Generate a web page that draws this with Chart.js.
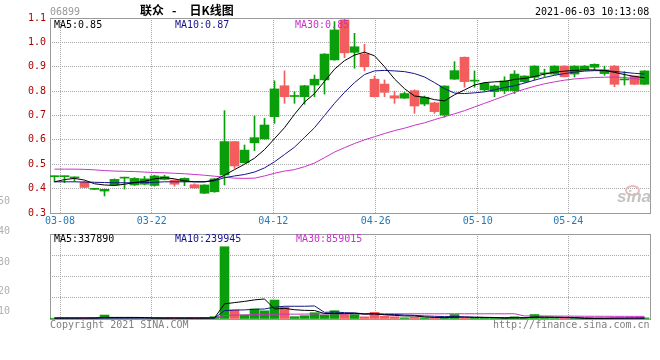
<!DOCTYPE html>
<html><head><meta charset="utf-8">
<script src="https://cdn.jsdelivr.net/npm/chart.js@4.4.1/dist/chart.umd.min.js"></script>
<style>
html,body{margin:0;padding:0;background:#fff;}
#wrap{position:relative;width:660px;height:360px;overflow:hidden;background:#fff;}
canvas{position:absolute;left:0;}
.t{position:absolute;font-family:"DejaVu Sans Mono",monospace;font-size:10px;line-height:10px;white-space:pre;z-index:5;}
.title{position:absolute;font-family:"Noto Sans CJK SC",sans-serif;font-weight:bold;font-size:12px;line-height:12px;white-space:pre;z-index:5;color:#000;}
.sp{display:inline-block;}
.logo{position:absolute;left:617px;top:189px;font-family:"Liberation Sans",Arial,sans-serif;font-style:italic;font-weight:bold;font-size:17px;line-height:16px;color:#c4c4c4;z-index:5;}
.eye{position:absolute;left:625px;top:185px;width:11px;height:7px;border:2px solid #e8bcbc;border-radius:50%;z-index:4;}
</style></head><body>
<div id="wrap">
<canvas id="price" width="660" height="232" style="top:0"></canvas>
<canvas id="vol" width="660" height="128" style="top:232px"></canvas>

<div class="t" style="left:50px;top:7px;color:#999">06899</div>
<div class="title" style="left:140px;top:4px">联众<span class="sp" style="width:8px"> </span>-<span class="sp" style="width:13px"> </span>日K线图</div>
<div class="t" style="left:535px;top:7px;color:#000">2021-06-03 10:13:08</div>

<div class="t" style="left:54px;top:20px;color:#000">MA5:0.85</div>
<div class="t" style="left:175px;top:20px;color:#14148c">MA10:0.87</div>
<div class="t" style="left:295px;top:20px;color:#c832c8">MA30:0.85</div>

<div class="t" style="left:54px;top:234px;color:#000">MA5:337890</div>
<div class="t" style="left:175px;top:234px;color:#14148c">MA10:239945</div>
<div class="t" style="left:296px;top:234px;color:#c832c8">MA30:859015</div>

<div class="t" style="left:50px;top:320px;color:#808080">Copyright 2021 SINA.COM</div>
<div class="t" style="left:493px;top:320px;color:#808080">http://finance.sina.com.cn</div>

<div class="eye"></div>
<div class="logo">sina</div>

<div id="leftLabels"></div>
</div>
<script>
// ---------------- DATA ----------------
const priceOpen = [0.449,0.449,0.444,0.426,0.397,0.390,0.415,0.443,0.415,0.418,
 0.413,0.438,0.435,0.430,0.416,0.381,0.387,0.456,0.593,0.506,
 0.588,0.604,0.695,0.822,0.778,0.777,0.825,0.846,0.928,1.092,
 0.959,0.952,0.849,0.829,0.781,0.771,0.802,0.747,0.752,0.702,
 0.849,0.939,0.841,0.805,0.798,0.802,0.802,0.839,0.857,0.871,
 0.870,0.903,0.870,0.887,0.898,0.872,0.903,0.846,0.862,0.828];
const priceClose = [0.451,0.451,0.446,0.405,0.399,0.397,0.438,0.445,0.442,0.440,
 0.452,0.449,0.418,0.442,0.403,0.415,0.440,0.593,0.493,0.558,
 0.609,0.661,0.809,0.777,0.781,0.822,0.849,0.952,1.051,0.957,
 0.982,0.900,0.777,0.795,0.771,0.790,0.739,0.775,0.716,0.821,
 0.884,0.839,0.843,0.832,0.821,0.842,0.870,0.862,0.903,0.873,
 0.903,0.859,0.903,0.903,0.910,0.887,0.828,0.848,0.828,0.883];
const priceHigh = [0.452,0.452,0.448,0.430,0.400,0.398,0.440,0.447,0.445,0.450,
 0.455,0.455,0.437,0.444,0.420,0.416,0.442,0.720,0.594,0.579,
 0.698,0.688,0.842,0.883,0.798,0.824,0.866,0.954,1.085,1.095,
 1.037,0.992,0.862,0.846,0.800,0.795,0.805,0.780,0.755,0.822,
 0.921,0.940,0.883,0.835,0.825,0.859,0.884,0.863,0.904,0.890,
 0.904,0.904,0.904,0.905,0.912,0.903,0.905,0.880,0.863,0.884];
const priceLow = [0.428,0.425,0.430,0.404,0.396,0.370,0.413,0.398,0.413,0.415,
 0.410,0.436,0.410,0.412,0.402,0.380,0.385,0.415,0.483,0.505,
 0.556,0.603,0.668,0.750,0.750,0.746,0.777,0.788,0.927,0.937,
 0.894,0.883,0.776,0.777,0.750,0.770,0.709,0.740,0.709,0.693,
 0.848,0.816,0.816,0.800,0.777,0.790,0.790,0.835,0.846,0.860,
 0.869,0.858,0.858,0.886,0.887,0.865,0.818,0.825,0.827,0.827];
const ma5 = [0.428,0.437,0.442,0.435,0.420,0.415,0.413,0.418,0.425,0.430,
 0.440,0.445,0.440,0.432,0.428,0.428,0.435,0.455,0.478,0.500,
 0.525,0.560,0.605,0.650,0.705,0.755,0.790,0.840,0.890,0.925,
 0.948,0.960,0.945,0.900,0.850,0.810,0.780,0.775,0.765,0.760,
 0.785,0.805,0.825,0.835,0.838,0.840,0.848,0.852,0.860,0.870,
 0.878,0.882,0.885,0.887,0.887,0.885,0.877,0.868,0.860,0.855];
const ma10 = [0.428,0.428,0.428,0.427,0.426,0.425,0.424,0.424,0.424,0.425,
 0.426,0.428,0.428,0.428,0.428,0.428,0.432,0.445,0.452,0.458,
 0.468,0.485,0.510,0.540,0.570,0.610,0.650,0.700,0.750,0.795,
 0.835,0.868,0.883,0.885,0.883,0.880,0.872,0.858,0.835,0.810,
 0.792,0.790,0.793,0.797,0.805,0.815,0.822,0.833,0.845,0.856,
 0.865,0.872,0.878,0.882,0.884,0.884,0.881,0.877,0.873,0.870];
const ma30 = [0.480,0.480,0.480,0.479,0.477,0.474,0.472,0.471,0.470,0.468,
 0.466,0.465,0.463,0.461,0.458,0.455,0.451,0.447,0.443,0.442,
 0.443,0.452,0.463,0.472,0.478,0.490,0.505,0.527,0.550,0.568,
 0.585,0.600,0.613,0.626,0.638,0.648,0.660,0.670,0.683,0.695,
 0.707,0.720,0.735,0.750,0.765,0.780,0.795,0.808,0.820,0.830,
 0.838,0.845,0.850,0.853,0.856,0.857,0.858,0.856,0.851,0.847];

const volume = [250000,300000,200000,350000,430000,1300000,300000,250000,300000,250000,
 300000,200000,250000,200000,250000,400000,760000,23800000,2960000,1320000,
 3300000,2700000,6250000,3850000,760000,1090000,2070000,1320000,2730000,1470000,
 1470000,720000,2200000,920000,720000,390000,590000,390000,300000,500000,
 1470000,300000,300000,250000,300000,350000,720000,300000,1470000,300000,
 150000,300000,250000,100000,120000,250000,400000,300000,350000,380000];
const volMa5 = [300000,300000,300000,300000,320000,520000,520000,520000,520000,480000,
 280000,260000,260000,240000,240000,260000,360000,5000000,5400000,5800000,
 6300000,6600000,3300000,3500000,3050000,2850000,2800000,1800000,1800000,1750000,
 1900000,1600000,1700000,1400000,1200000,1000000,1000000,700000,500000,450000,
 600000,600000,550000,550000,500000,300000,400000,400000,650000,650000,
 600000,550000,500000,200000,160000,200000,250000,300000,320000,338000];
const volMa10 = [300000,300000,300000,300000,300000,310000,320000,330000,340000,350000,
 400000,400000,400000,400000,400000,390000,330000,2750000,2950000,3000000,
 3200000,3300000,3900000,4200000,4200000,4200000,4300000,2200000,2300000,2100000,
 2000000,1700000,1700000,1500000,1500000,1300000,1200000,1000000,900000,800000,
 800000,700000,600000,500000,450000,450000,450000,450000,550000,550000,
 500000,450000,400000,400000,350000,300000,260000,250000,245000,240000];
const volMa30 = [380000,378000,376000,374000,372000,370000,368000,366000,364000,362000,
 360000,358000,356000,354000,352000,350000,350000,1100000,1300000,1350000,
 1450000,1500000,1550000,1600000,1600000,1620000,1650000,1660000,1700000,1710000,
 1720000,1710000,1730000,1720000,1720000,1710000,1720000,1720000,1710000,1720000,
 1730000,1720000,1720000,1710000,1720000,1720000,1730000,1000000,1020000,1000000,
 970000,950000,930000,910000,900000,890000,880000,870000,862000,859000];

const dateTickLabels = ['03-08','03-22','04-12','04-26','05-10','05-24'];
const dateTickAt = [0.55, 9.72, 21.88, 32.13, 42.32, 51.38];
const priceTickValues = [0.3,0.4,0.5,0.6,0.7,0.8,0.9,1.0,1.1];
const volTickValues = [0, 7000000, 14000000, 21000000, 28000000];
const leftAxisLabels = ['50','40','30','20','10'];
const leftAxisLabelY = [196, 226, 257, 286, 306];

// ---------------- STYLE ----------------
const UP = '#0a9e0a', DOWN = '#f35d5d';
const C_MA5 = '#000000', C_MA10 = '#14148c', C_MA30 = '#c832c8';
const MONO = '"DejaVu Sans Mono", monospace';
Chart.defaults.font.family = MONO;
Chart.defaults.font.size = 10;

// grey labels on the far left
const ll = document.getElementById('leftLabels');
leftAxisLabels.forEach((s, k) => {
  const d = document.createElement('div');
  d.className = 't';
  d.style.cssText = 'left:-2px;top:' + leftAxisLabelY[k] + 'px;color:#b0b0b0';
  d.textContent = s;
  ll.appendChild(d);
});

const idx = priceOpen.map((_, i) => i);
const colors = idx.map(i => priceClose[i] >= priceOpen[i] ? UP : DOWN);

const frame = {
  id: 'frame',
  beforeDatasetsDraw(chart) {
    const {ctx, chartArea: a} = chart;
    ctx.save();
    ctx.strokeStyle = '#9a9a9a';
    ctx.lineWidth = 1;
    ctx.setLineDash([]);
    ctx.strokeRect(a.left + 0.5, a.top + 0.5, a.right - a.left, a.bottom - a.top);
    ctx.restore();
  }
};

function xScale(showLabels) {
  return {
    type: 'linear', min: -0.45, max: 59.55, offset: false,
    afterBuildTicks: s => { s.ticks = dateTickAt.map(v => ({value: v})); },
    afterFit: s => { s.height = showLabels ? 19 : 0; },
    ticks: {
      display: showLabels, autoSkip: false, maxRotation: 0, padding: 2,
      color: '#2878b4', font: {family: MONO, size: 10},
      callback: (v, i) => dateTickLabels[i]
    },
    grid: { color: '#a8a8a8', lineWidth: 1, drawTicks: false, offset: false },
    border: { display: false, dash: [1, 1] }
  };
}

function line(vals, color) {
  return { type: 'line', data: idx.map(i => ({x: i, y: vals[i]})), borderColor: color,
    borderWidth: 1, pointRadius: 0, tension: 0, fill: false };
}

const common = {
  responsive: false, animation: false, devicePixelRatio: 1,
  plugins: { legend: {display: false}, tooltip: {enabled: false} }
};

new Chart(document.getElementById('price'), {
  type: 'bar',
  data: {
    datasets: [
      line(ma5, C_MA5),
      line(ma10, C_MA10),
      line(ma30, C_MA30),
      { type: 'bar', data: idx.map(i => ({x: i, y: [priceOpen[i], priceClose[i]]})),
        backgroundColor: colors, barThickness: 9, minBarLength: 1, grouped: false, borderWidth: 0 },
      { type: 'bar', data: idx.map(i => ({x: i, y: [priceLow[i], priceHigh[i]]})),
        backgroundColor: colors, barThickness: 1, grouped: false, borderWidth: 0 }
    ]
  },
  options: Object.assign({}, common, {
    layout: { padding: {top: 18, right: 10, left: 0, bottom: 0} },
    scales: {
      x: xScale(true),
      y: {
        min: 0.3, max: 1.1,
        afterBuildTicks: s => { s.ticks = priceTickValues.map(v => ({value: v})); },
        afterFit: s => { s.width = 50; },
        ticks: { color: '#b00000', padding: 4, font: {family: MONO, size: 10},
          callback: v => Number(v).toFixed(1) },
        grid: { color: '#a8a8a8', drawTicks: false },
        border: { display: false, dash: [1, 1] }
      }
    }
  }),
  plugins: [frame]
});

new Chart(document.getElementById('vol'), {
  type: 'bar',
  data: {
    datasets: [
      line(volMa5, C_MA5),
      line(volMa10, C_MA10),
      line(volMa30, C_MA30),
      { type: 'bar', data: idx.map(i => ({x: i, y: volume[i]})),
        backgroundColor: colors, barThickness: 9, grouped: false, borderWidth: 0 }
    ]
  },
  options: Object.assign({}, common, {
    layout: { padding: {top: 2, right: 10, left: 0, bottom: 41} },
    scales: {
      x: xScale(false),
      y: {
        min: 0, max: 28000000,
        afterBuildTicks: s => { s.ticks = volTickValues.map(v => ({value: v})); },
        afterFit: s => { s.width = 50; },
        ticks: { display: false },
        grid: { color: '#a8a8a8', drawTicks: false },
        border: { display: false, dash: [1, 1] }
      }
    }
  }),
  plugins: [frame]
});
</script>
</body></html>
